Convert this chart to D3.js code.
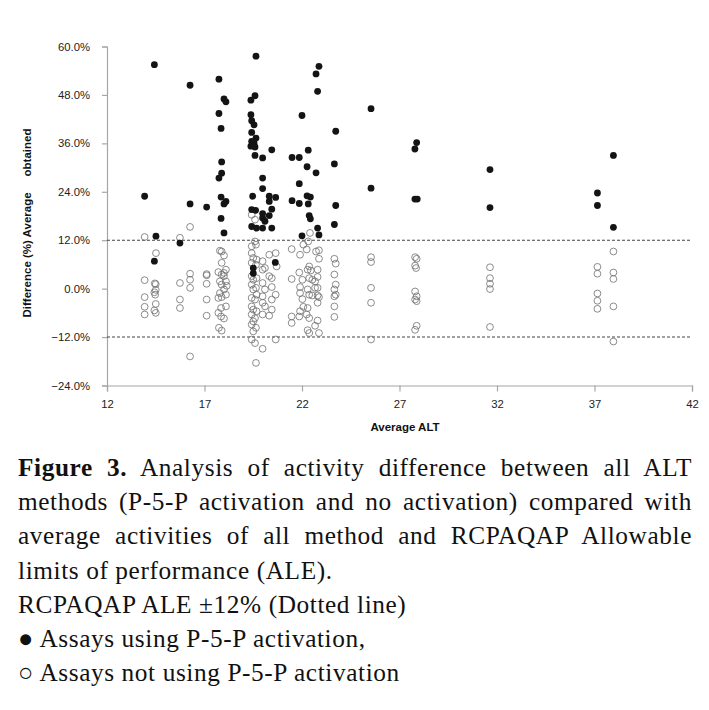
<!DOCTYPE html>
<html><head><meta charset="utf-8">
<script src="https://cdn.jsdelivr.net/npm/d3@7"></script>
<style>
html,body{margin:0;padding:0;background:#fff;}
#wrap{position:relative;width:709px;height:710px;overflow:hidden;}
#cap{position:absolute;left:18px;top:450px;width:674px;font-family:"Liberation Serif","Times New Roman",serif;font-size:25.3px;letter-spacing:0.6px;line-height:34.2px;color:#111;}
#cap div{white-space:nowrap;}
#cap div.j{text-align:justify;text-align-last:justify;white-space:normal;}
</style></head>
<body><div id="wrap"><svg id="chart" width="709" height="440"></svg><div id="cap"></div></div>
<script>
// ---- data ----
const xTicks = [12, 17, 22, 27, 32, 37, 42];
const yTicks = [-24, -12, 0, 12, 24, 36, 48, 60];
const aleLimits = [12, -12];
const xTitle = "Average ALT";
const yTitle = "Difference (%) Average     obtained";
// Assays using P-5-P activation [average ALT, difference %]
const withP5P = [
[13.93,22.9],[14.43,55.5],[14.43,6.8],[14.51,13.0],[15.74,11.3],[16.26,50.4],[16.26,21.0],[17.11,20.2],
[17.74,51.9],[18.0,47.0],[18.1,46.3],[17.74,43.4],[17.85,39.7],[17.88,31.4],[17.88,28.6],[17.74,27.4],
[17.85,22.7],[18.1,21.6],[18.0,21.0],[17.85,17.4],[18.0,13.8],
[19.64,57.6],[19.59,47.8],[19.38,46.7],[19.38,43.1],[19.42,41.6],[19.54,40.6],[19.42,38.7],[19.64,37.3],
[19.42,36.5],[19.54,36.1],[19.38,35.3],[19.59,35.1],[19.59,33.0],[19.98,32.4],[20.45,34.4],[19.98,27.4],
[19.98,24.8],[19.47,22.9],[20.32,22.9],[20.65,22.6],[20.32,21.6],[20.45,19.7],[19.42,19.6],[19.62,19.4],
[19.98,18.6],[20.32,18.1],[19.98,17.5],[20.1,16.7],[19.42,15.4],[19.67,15.0],[19.98,15.0],[20.45,15.0],
[19.5,5.1],[19.5,3.8],[20.63,6.5],
[22.87,55.1],[22.72,53.2],[22.8,48.9],[22.0,42.9],[25.54,44.6],[23.73,39.0],[21.49,32.5],[21.86,32.5],
[22.32,34.3],[22.26,30.2],[22.72,28.7],[23.66,30.9],[21.86,26.0],[27.88,36.2],[27.79,34.6],[25.54,24.9],
[27.79,22.2],[27.91,22.2],[21.49,21.8],[21.86,21.1],[22.26,23.0],[22.43,22.7],[22.32,21.0],[23.73,20.6],
[22.37,18.1],[22.43,17.3],[23.66,15.9],[22.8,15.0],[22.87,13.3],[22.0,13.1],
[31.64,29.5],[31.64,20.1],[37.97,33.0],[37.15,23.7],[37.15,20.6],[37.97,15.2]
];
// Assays not using P-5-P activation
const withoutP5P = [
[13.93,12.8],[15.74,12.6],[16.26,15.3],[14.51,8.8],
[13.93,2.1],[14.45,1.3],[14.5,1.1],[14.5,-0.3],[14.43,-0.9],[14.47,-1.5],[13.93,-2.1],[13.93,-4.5],
[14.5,-3.8],[14.43,-5.4],[13.93,-6.4],[14.5,-6.0],
[15.74,1.4],[15.74,-2.7],[15.74,-4.8],
[16.26,3.7],[16.26,2.2],[16.26,0.2],[16.26,-16.8],
[17.11,3.6],[17.11,3.3],[17.11,1.2],[17.11,-2.7],[17.11,-6.7],
[17.79,9.4],[17.88,9.2],[18.0,8.2],[17.88,6.4],[18.1,4.7],[17.71,4.1],[18.0,3.9],[17.88,3.5],[17.79,1.8],
[18.1,1.8],[17.88,1.0],[18.0,-0.2],[17.79,-1.1],[17.71,-2.3],[17.88,-2.1],[18.1,-4.4],[17.85,-4.8],
[17.71,-6.0],[17.85,-6.9],[18.0,-7.4],[17.74,-9.7],[17.88,-10.4],[18.14,0.7],[18.0,3.1],[18.1,-1.5],
[19.59,11.7],[19.64,10.9],[19.42,10.5],[19.42,8.8],[19.5,7.6],[19.67,7.2],[19.42,6.4],[19.64,5.9],
[19.42,3.1],[19.67,2.6],[19.5,2.2],[19.42,1.0],[19.64,0.2],[19.5,-0.2],[19.67,-1.5],[19.42,-2.3],
[19.59,-2.7],[19.42,-4.4],[19.5,-5.2],[19.67,-5.6],[19.42,-6.4],[19.59,-7.3],[19.5,-8.1],[19.42,-8.9],
[19.64,-9.7],[19.5,-10.6],[19.42,-12.6],[19.59,-13.5],[19.64,-18.4],[19.42,18.3],[19.59,17.1],
[19.98,6.8],[20.1,5.1],[19.98,4.7],[20.32,8.4],[20.65,8.8],[20.7,5.5],[20.32,3.1],[20.45,2.6],
[19.98,1.4],[20.45,0.4],[20.1,-0.2],[19.98,-1.9],[20.45,-2.7],[20.65,-1.5],[19.98,-3.5],[20.1,-4.4],
[20.45,-5.2],[19.98,-6.4],[20.32,-6.7],[20.65,-12.6],[19.98,-14.9],
[21.47,9.8],[21.9,8.4],[22.07,10.9],[22.24,9.7],[22.32,11.7],[22.41,13.8],[22.72,9.2],[22.87,9.5],
[22.87,7.4],[21.86,4.0],[22.02,2.2],[22.29,4.7],[22.37,5.5],[22.45,4.5],[22.8,4.7],[22.8,2.9],
[22.37,2.6],[22.53,2.2],[22.67,1.8],[21.47,2.4],[21.9,0.4],[22.29,-0.2],[22.67,0.2],[22.8,0.2],
[21.9,-1.1],[22.02,-2.6],[22.37,-1.5],[22.53,-1.7],[22.8,-1.7],[22.87,-2.1],[22.8,-3.5],[22.07,-4.5],
[22.29,-4.8],[21.9,-5.6],[21.47,-6.9],[21.86,-6.9],[22.24,-6.4],[22.37,-7.3],[21.47,-8.5],[22.8,-7.9],
[22.67,-9.2],[22.29,-10.3],[22.37,-11.0],[22.87,-11.0],
[23.66,7.4],[23.73,6.2],[23.66,3.5],[23.73,1.0],[23.66,-0.2],[23.73,-1.5],[23.66,-1.9],[23.66,-4.4],[23.66,-7.0],
[25.54,7.8],[25.54,6.6],[25.54,0.2],[25.54,-3.5],[25.54,-12.6],
[27.8,7.8],[27.88,7.4],[27.8,5.7],[27.85,5.1],[27.8,-0.7],[27.88,-1.9],[27.8,-2.7],[27.88,-3.1],[27.88,-9.2],[27.8,-10.2],
[31.64,5.3],[31.64,2.6],[31.64,1.2],[31.64,-0.1],[31.64,-9.5],
[37.15,5.4],[37.15,3.7],[37.15,-1.2],[37.15,-3.0],[37.15,-5.0],
[37.97,9.2],[37.97,4.0],[37.97,2.4],[37.97,-4.4],[37.97,-13.1]
];
const captionLines = [
  {html:"<b>Figure 3.</b> Analysis of activity difference between all ALT", justify:true},
  {html:"methods (P-5-P activation and no activation) compared with", justify:true},
  {html:"average activities of all method and RCPAQAP Allowable", justify:true},
  {html:"limits of performance (ALE).", justify:false},
  {html:"RCPAQAP ALE ±12% (Dotted line)", justify:false},
  {html:"● Assays using P-5-P activation,", justify:false},
  {html:"○ Assays not using P-5-P activation", justify:false}
];

// ---- chart ----
const svg = d3.select("#chart");
const x = d3.scaleLinear().domain([12, 42]).range([107, 692]);
const y = d3.scaleLinear().domain([-24, 60]).range([385.5, 46.5]);
const font = "'Liberation Sans', Arial, sans-serif";
const axisColor = "#a6a6a6";

const gx = svg.append("g").attr("transform", `translate(0,${y(-24)})`)
  .call(d3.axisBottom(x).tickValues(xTicks).tickSize(6).tickPadding(8).tickFormat(d3.format("d")));
const gy = svg.append("g").attr("transform", `translate(${x(12)},0)`)
  .call(d3.axisLeft(y).tickValues(yTicks).tickSize(5).tickPadding(12).tickFormat(d => d3.format(".1f")(d) + "%"));
[gx, gy].forEach(g => {
  g.select(".domain").attr("stroke", axisColor).attr("stroke-width", 1.2);
  g.selectAll(".tick line").attr("stroke", axisColor).attr("stroke-width", 1.2);
  g.selectAll(".tick text").attr("fill", "#222").style("font-family", font).style("font-size", "11.3px");
});

svg.selectAll("line.ale").data(aleLimits).join("line").attr("class", "ale")
  .attr("x1", x(12)).attr("x2", x(41.9)).attr("y1", d => y(d)).attr("y2", d => y(d))
  .attr("stroke", "#444").attr("stroke-width", 1.1).attr("stroke-dasharray", "3,2");

svg.append("g").selectAll("circle").data(withoutP5P).join("circle")
  .attr("cx", d => x(d[0])).attr("cy", d => y(d[1])).attr("r", 3.4)
  .attr("fill", "none").attr("stroke", "#6e6e6e").attr("stroke-width", 0.8);
svg.append("g").selectAll("circle").data(withP5P).join("circle")
  .attr("cx", d => x(d[0])).attr("cy", d => y(d[1])).attr("r", 3.4)
  .attr("fill", "#141414");

svg.append("text").attr("x", 405).attr("y", 431).attr("text-anchor", "middle")
  .style("font-family", font).style("font-size", "11.5px").style("font-weight", "bold").attr("fill", "#111").text(xTitle);
svg.append("text").attr("transform", `translate(31,223) rotate(-90)`).attr("text-anchor", "middle")
  .style("font-family", font).style("font-size", "11.5px").style("font-weight", "bold").style("white-space", "pre")
  .attr("fill", "#111").text(yTitle);

// ---- caption ----
d3.select("#cap").selectAll("div").data(captionLines).join("div")
  .attr("class", d => d.justify ? "j" : null).html(d => d.html);
</script></body></html>
